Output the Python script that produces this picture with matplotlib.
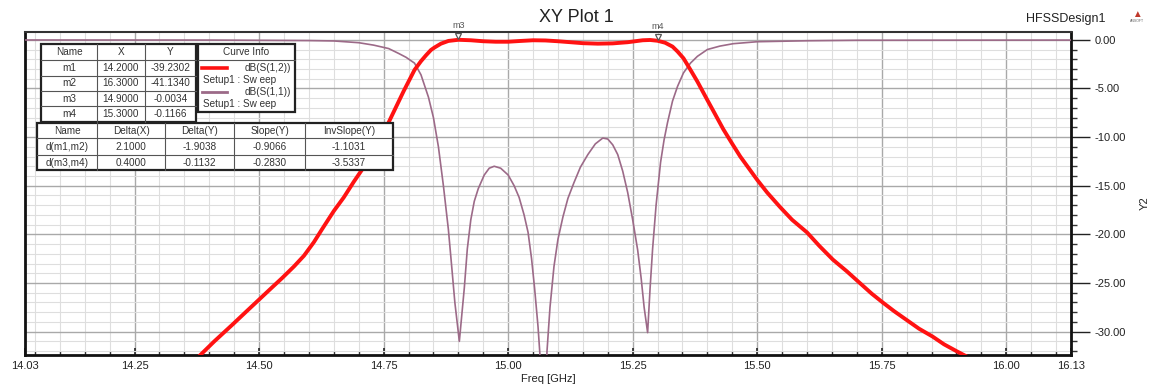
import matplotlib
matplotlib.use("Agg")
import matplotlib.pyplot as plt
import matplotlib.patches as patches
import matplotlib.transforms as mtransforms
from matplotlib.lines import Line2D
from matplotlib.ticker import MultipleLocator, FormatStrFormatter

plt.rcParams['font.family'] = ['Liberation Sans', 'DejaVu Sans']

# ---- data ----
s21_freq = [14.376, 14.41, 14.446, 14.475, 14.50, 14.525, 14.546, 14.57, 14.59, 14.61,
            14.626, 14.65, 14.67, 14.69, 14.706, 14.72, 14.735, 14.748, 14.76, 14.775,
            14.79, 14.80, 14.812, 14.825, 14.835, 14.845, 14.852, 14.865, 14.88, 14.90,
            14.925, 14.95, 14.975, 15.00, 15.025, 15.05, 15.075, 15.10, 15.125, 15.15,
            15.18, 15.21, 15.24, 15.27, 15.285, 15.30, 15.315, 15.33, 15.34, 15.352,
            15.365, 15.38, 15.40, 15.415, 15.432, 15.45, 15.466, 15.483, 15.50, 15.52,
            15.546, 15.57, 15.60, 15.625, 15.652, 15.68, 15.706, 15.73, 15.752, 15.775,
            15.80, 15.825, 15.852, 15.875, 15.90, 15.926]
s21_db = [-32.7, -31.0, -29.3, -27.9, -26.7, -25.5, -24.5, -23.3, -22.2, -20.8,
          -19.5, -17.6, -16.2, -14.6, -13.4, -12.2, -10.9, -9.7, -8.5, -6.9,
          -5.3, -4.3, -3.1, -2.2, -1.6, -1.05, -0.8, -0.4, -0.12, 0.0,
          -0.05, -0.15, -0.2, -0.2, -0.12, -0.05, -0.07, -0.15, -0.25, -0.35,
          -0.4, -0.37, -0.25, -0.05, -0.02, -0.1, -0.3, -0.7, -1.2, -1.9,
          -3.0, -4.3, -6.2, -7.6, -9.2, -10.7, -12.0, -13.2, -14.4, -15.7,
          -17.2, -18.5, -19.8, -21.2, -22.6, -23.8, -25.0, -26.1, -27.0, -27.9,
          -28.8, -29.7, -30.5, -31.3, -32.0, -32.7]

s11_freq = [14.03, 14.40, 14.60, 14.65, 14.70, 14.73, 14.76, 14.78, 14.795, 14.812,
            14.825, 14.84, 14.85, 14.86, 14.87, 14.88, 14.887, 14.893, 14.902, 14.912,
            14.918, 14.925, 14.932, 14.94, 14.952, 14.962, 14.972, 14.985, 15.00, 15.012,
            15.022, 15.032, 15.04, 15.047, 15.053, 15.06, 15.066, 15.07, 15.074, 15.078,
            15.084, 15.092, 15.10, 15.11, 15.12, 15.132, 15.145, 15.16, 15.175, 15.19,
            15.20, 15.21, 15.22, 15.23, 15.24, 15.25, 15.26, 15.267, 15.273, 15.28,
            15.285, 15.29, 15.297, 15.306, 15.313, 15.32, 15.33, 15.34, 15.352, 15.366,
            15.38, 15.40, 15.425, 15.452, 15.50, 15.60, 15.70, 16.13]
s11_db = [-0.02, -0.03, -0.08, -0.12, -0.3, -0.55, -0.9, -1.4, -1.8, -2.4,
          -3.6, -5.9, -8.0, -11.0, -15.0, -19.5, -23.5, -27.0, -31.0, -25.5,
          -21.5, -18.5, -16.6, -15.3, -13.9, -13.2, -13.0, -13.2, -13.9, -15.0,
          -16.2, -18.0, -19.8, -22.5, -25.5, -29.5, -34.0, -40.0, -38.0, -32.0,
          -27.5, -23.3, -20.5, -18.2, -16.3, -14.7, -13.1, -11.8, -10.7, -10.1,
          -10.2, -10.8, -11.8, -13.5, -15.7, -18.5, -21.6, -24.5, -27.5, -30.1,
          -25.5, -21.5, -17.0, -12.6, -10.3, -8.5, -6.3, -4.8, -3.4, -2.4,
          -1.7, -1.0, -0.65, -0.4, -0.2, -0.1, -0.05, -0.03]

marker_names = ["m1", "m2", "m3", "m4"]
marker_x = [14.2, 16.3, 14.9, 15.3]
marker_y = [-39.2302, -41.1340, -0.0034, -0.1166]

delta_names = ["d(m1,m2)", "d(m3,m4)"]
delta_x = [2.1, 0.4]
delta_y = [-1.9038, -0.1132]
slope_y = [-0.9066, -0.2830]
invslope_y = [-1.1031, -3.5337]

x_ticks = [14.03, 14.25, 14.50, 14.75, 15.00, 15.25, 15.50, 15.75, 16.00, 16.13]

RED = "#ff1212"
MAUVE = "#9c6a88"

W, H = 1151, 387
fig = plt.figure(figsize=(W / 100, H / 100), dpi=100)

def fx(px):
    return px / W

def fy(py):
    return 1 - py / H

ax = fig.add_axes([fx(25), fy(355), fx(1071) - fx(25), fy(32) - fy(355)])

ax.plot(s11_freq, s11_db, color=MAUVE, lw=1.2, zorder=3)
ax.plot(s21_freq, s21_db, color=RED, lw=2.8, zorder=4, solid_joinstyle='round')

ax.set_xlim(14.03, 16.13)
ax.set_ylim(-32.4, 0.8)

ax.set_xticks(x_ticks)
ax.xaxis.set_major_formatter(FormatStrFormatter('%.2f'))
ax.xaxis.set_minor_locator(MultipleLocator(0.05))
ax.yaxis.set_major_locator(MultipleLocator(5))
ax.yaxis.set_minor_locator(MultipleLocator(1))
ax.yaxis.set_major_formatter(FormatStrFormatter('%.2f'))
ax.yaxis.tick_right()
ax.yaxis.set_label_position('right')

ax.grid(which='major', color='#a9a9a9', lw=1.0)
ax.grid(which='minor', color='#dedede', lw=0.8)
ax.set_axisbelow(True)

ax.tick_params(axis='x', which='major', direction='in', length=5, width=1.2,
               labelsize=8, pad=4, colors='#222222')
ax.tick_params(axis='x', which='minor', direction='in', length=3, width=1.0, colors='#333333')
ax.tick_params(axis='y', which='major', direction='out', length=14, width=1.0,
               labelsize=8, pad=3, colors='#222222')
ax.tick_params(axis='y', which='minor', direction='out', length=4, width=1.0, colors='#333333')

for side in ['left', 'right', 'bottom']:
    ax.spines[side].set_linewidth(2.0)
    ax.spines[side].set_color('#111111')
ax.spines['top'].set_linewidth(1.5)
ax.spines['top'].set_color('#333333')

fig.text(fx(548), fy(379), "Freq [GHz]", fontsize=8, ha='center', va='center', color='#222222')
ax.set_ylabel("Y2", fontsize=8, rotation=90, color='#222222')
ax.yaxis.set_label_coords(1.066, 0.47)

# markers m3, m4 sitting on the S21 curve
mk_trans = mtransforms.offset_copy(ax.transData, fig=fig, y=4, units='dots')
lb_trans = mtransforms.offset_copy(ax.transData, fig=fig, y=10, units='dots')
for name, mx, my in zip(marker_names, marker_x, marker_y):
    if 14.03 <= mx <= 16.13:
        ax.plot([mx], [my], marker='v', ms=5, mfc='white', mec='#555555', mew=0.9,
                transform=mk_trans, clip_on=False, zorder=6)
        ax.text(mx, my, name, transform=lb_trans, fontsize=6.5, color='#555555',
                ha='center', va='bottom', clip_on=False)

fig.text(fx(576), fy(18), "XY Plot 1", fontsize=13, ha='center', va='center', color='#222222')
fig.text(fx(1066), fy(19), "HFSSDesign1", fontsize=9, ha='center', va='center', color='#222222')
fig.text(fx(1137), fy(14), "\u25b2", fontsize=7, ha='center', va='center', color='#c0392b')
fig.text(fx(1137), fy(21), "ANSOFT", fontsize=2.5, ha='center', va='center', color='#666666')


def draw_table(cols, rows, cells, fontsize=7.2):
    x0, x1 = cols[0], cols[-1]
    y0, y1 = rows[0], rows[-1]
    fig.add_artist(patches.Rectangle((fx(x0), fy(y1)), fx(x1) - fx(x0), fy(y0) - fy(y1),
                                     transform=fig.transFigure, facecolor='white',
                                     edgecolor='#222222', lw=1.6, zorder=5))
    for c in cols[1:-1]:
        fig.add_artist(Line2D([fx(c), fx(c)], [fy(y0), fy(y1)], transform=fig.transFigure,
                              color='#555555', lw=0.8, zorder=6))
    for r in rows[1:-1]:
        fig.add_artist(Line2D([fx(x0), fx(x1)], [fy(r), fy(r)], transform=fig.transFigure,
                              color='#555555', lw=0.8, zorder=6))
    for i, row in enumerate(cells):
        for j, txt in enumerate(row):
            cx = (cols[j] + cols[j + 1]) / 2
            cy = (rows[i] + rows[i + 1]) / 2
            fig.text(fx(cx), fy(cy), txt, fontsize=fontsize, ha='center', va='center',
                     color='#333333', zorder=7)


# marker table
t1 = [["Name", "X", "Y"]]
for n, xv, yv in zip(marker_names, marker_x, marker_y):
    t1.append([n, f"{xv:.4f}", f"{yv:.4f}"])
draw_table([41, 97, 145, 196], [44, 60, 76, 91, 106, 122], t1)

# delta table
t2 = [["Name", "Delta(X)", "Delta(Y)", "Slope(Y)", "InvSlope(Y)"]]
for n, a, b, c, d in zip(delta_names, delta_x, delta_y, slope_y, invslope_y):
    t2.append([n, f"{a:.4f}", f"{b:.4f}", f"{c:.4f}", f"{d:.4f}"])
draw_table([37, 97, 165, 234, 305, 393], [123, 138, 155, 170], t2)

# curve info box
fig.add_artist(patches.Rectangle((fx(198), fy(112)), fx(295) - fx(198), fy(44) - fy(112),
                                 transform=fig.transFigure, facecolor='white',
                                 edgecolor='#222222', lw=1.6, zorder=5))
fig.add_artist(Line2D([fx(198), fx(295)], [fy(60), fy(60)], transform=fig.transFigure,
                      color='#555555', lw=0.8, zorder=6))
fig.text(fx(246), fy(52), "Curve Info", fontsize=7.2, ha='center', va='center', color='#333333', zorder=7)
legend_rows = [("dB(S(1,2))", RED, 2.6, 68), ("dB(S(1,1))", MAUVE, 2.0, 92)]
for label, col, lw, yy in legend_rows:
    fig.add_artist(Line2D([fx(202), fx(227)], [fy(yy), fy(yy)], transform=fig.transFigure,
                          color=col, lw=lw, zorder=7))
    fig.text(fx(291), fy(yy), label, fontsize=7.2, ha='right', va='center', color='#333333', zorder=7)
    fig.text(fx(203), fy(yy + 12), "Setup1 : Sw eep", fontsize=7.2, ha='left', va='center',
             color='#333333', zorder=7)

fig.savefig("out.png", dpi=100)
